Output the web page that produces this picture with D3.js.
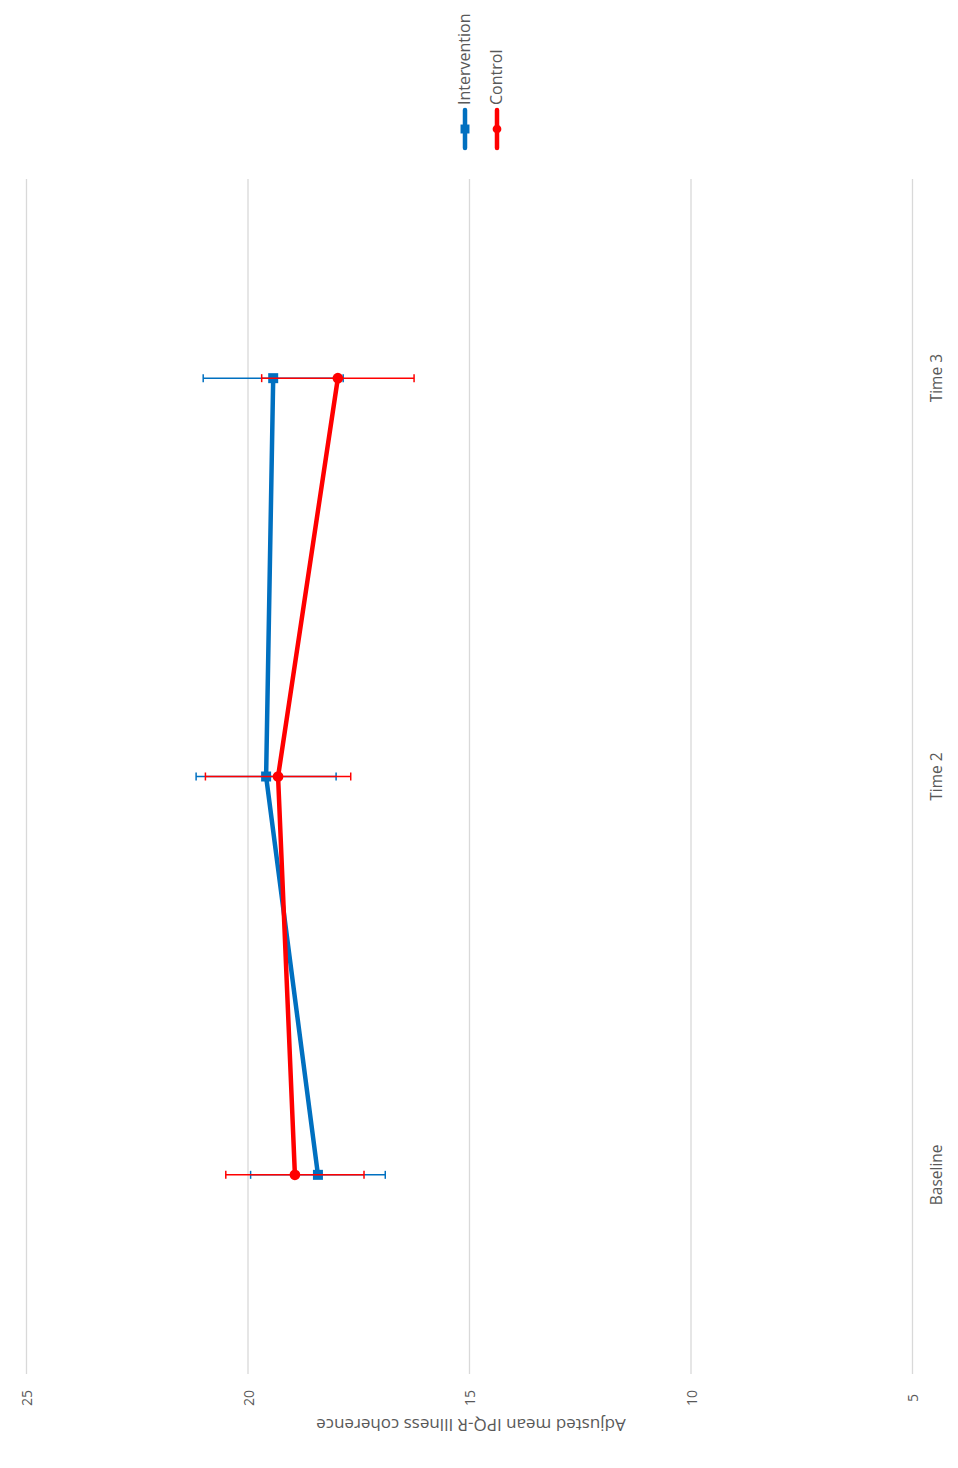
<!DOCTYPE html>
<html>
<head>
<meta charset="utf-8">
<script src="https://cdn.jsdelivr.net/npm/d3@7"></script>
<style>
  body { margin: 0; background: #fff; }
  text { font-family: "Open Sans", "Liberation Sans", sans-serif; fill: #595959; }
</style>
</head>
<body>
<div id="chart"></div>
<script>
var categories = ["Baseline", "Time 2", "Time 3"];
var interventionMean = [18.41, 19.58, 19.42];
var interventionErr = [1.52, 1.58, 1.58];
var controlMean = [18.93, 19.31, 17.96];
var controlErr = [1.56, 1.64, 1.72];
var valueTicks = [5, 10, 15, 20, 25];
var seriesNames = ["Intervention", "Control"];
var axisTitle = "Adjusted mean IPQ-R Illness coherence";

var width = 958, height = 1468;
var blue = "#0070c0", red = "#ff0000";

var svg = d3.select("#chart").append("svg")
  .attr("width", width)
  .attr("height", height);

// the chart is drawn turned on its side: values run right-to-left, categories bottom-to-top
var x = d3.scaleLinear().domain([5, 25]).range([912, 26]);
var y = d3.scalePoint().domain(categories).range([1374, 179]).padding(0.5);

// gridlines + value labels
var axis = d3.axisBottom(x).tickValues(valueTicks).tickSize(-(1374 - 179)).tickFormat(d3.format("d"));
var gAxis = svg.append("g")
  .attr("transform", "translate(0,1374)")
  .call(axis);
gAxis.select(".domain").remove();
gAxis.selectAll(".tick line").attr("stroke", "#d9d9d9").attr("stroke-width", 1.3);
gAxis.selectAll(".tick text")
  .attr("y", 0).attr("dy", null)
  .attr("transform", "translate(0,24) rotate(-90)")
  .attr("text-anchor", "middle")
  .attr("dominant-baseline", "central")
  .style("font-size", "14px")
  .style("fill", "#595959")
  .style("font-family", null);
gAxis.attr("font-family", null).attr("font-size", null);

// category labels
svg.append("g").selectAll("text")
  .data(categories)
  .enter().append("text")
  .attr("transform", function (d) { return "translate(936," + y(d) + ") rotate(-90)"; })
  .attr("text-anchor", "middle")
  .attr("dominant-baseline", "central")
  .style("font-size", "15.5px")
  .text(function (d) { return d; });

// axis title (upside down)
svg.append("text")
  .attr("transform", "translate(471,1425) rotate(180)")
  .attr("text-anchor", "middle")
  .attr("dominant-baseline", "central")
  .style("font-size", "17px")
  .text(axisTitle);

function drawSeries(means, errs, color, shape) {
  var pts = categories.map(function (c, i) { return { c: c, v: means[i], e: errs[i] }; });
  var g = svg.append("g");

  // error bars
  var eb = g.selectAll(".eb").data(pts).enter().append("g");
  eb.append("line")
    .attr("x1", function (d) { return x(d.v - d.e); })
    .attr("x2", function (d) { return x(d.v + d.e); })
    .attr("y1", function (d) { return y(d.c); })
    .attr("y2", function (d) { return y(d.c); })
    .attr("stroke", color).attr("stroke-width", 1.5);
  [-1, 1].forEach(function (s) {
    eb.append("line")
      .attr("x1", function (d) { return x(d.v + s * d.e); })
      .attr("x2", function (d) { return x(d.v + s * d.e); })
      .attr("y1", function (d) { return y(d.c) - 4; })
      .attr("y2", function (d) { return y(d.c) + 4; })
      .attr("stroke", color).attr("stroke-width", 1.5);
  });

  var line = d3.line()
    .x(function (d) { return x(d.v); })
    .y(function (d) { return y(d.c); });
  g.append("path")
    .datum(pts)
    .attr("d", line)
    .attr("fill", "none")
    .attr("stroke", color)
    .attr("stroke-width", 4.5)
    .attr("stroke-linejoin", "round")
    .attr("stroke-linecap", "round");

  var sym = d3.symbol().type(shape).size(shape === d3.symbolSquare ? 100 : 90);
  g.selectAll(".m").data(pts).enter().append("path")
    .attr("d", sym)
    .attr("transform", function (d) { return "translate(" + x(d.v) + "," + y(d.c) + ")"; })
    .attr("fill", color);
}

drawSeries(interventionMean, interventionErr, blue, d3.symbolSquare);
drawSeries(controlMean, controlErr, red, d3.symbolCircle);

// legend
var legend = svg.append("g");
var legendItems = [
  { name: seriesNames[0], color: blue, shape: d3.symbolSquare, x: 465 },
  { name: seriesNames[1], color: red, shape: d3.symbolCircle, x: 497 }
];
legendItems.forEach(function (d) {
  legend.append("line")
    .attr("x1", d.x).attr("x2", d.x)
    .attr("y1", 110).attr("y2", 148)
    .attr("stroke", d.color).attr("stroke-width", 4.5)
    .attr("stroke-linecap", "round");
  legend.append("path")
    .attr("d", d3.symbol().type(d.shape).size(d.shape === d3.symbolSquare ? 80 : 60))
    .attr("transform", "translate(" + d.x + ",129)")
    .attr("fill", d.color);
  legend.append("text")
    .attr("transform", "translate(" + (d.x - 1) + ",105) rotate(-90)")
    .attr("text-anchor", "start")
    .attr("dominant-baseline", "central")
    .style("font-size", "16px")
    .text(d.name);
});
</script>
</body>
</html>
